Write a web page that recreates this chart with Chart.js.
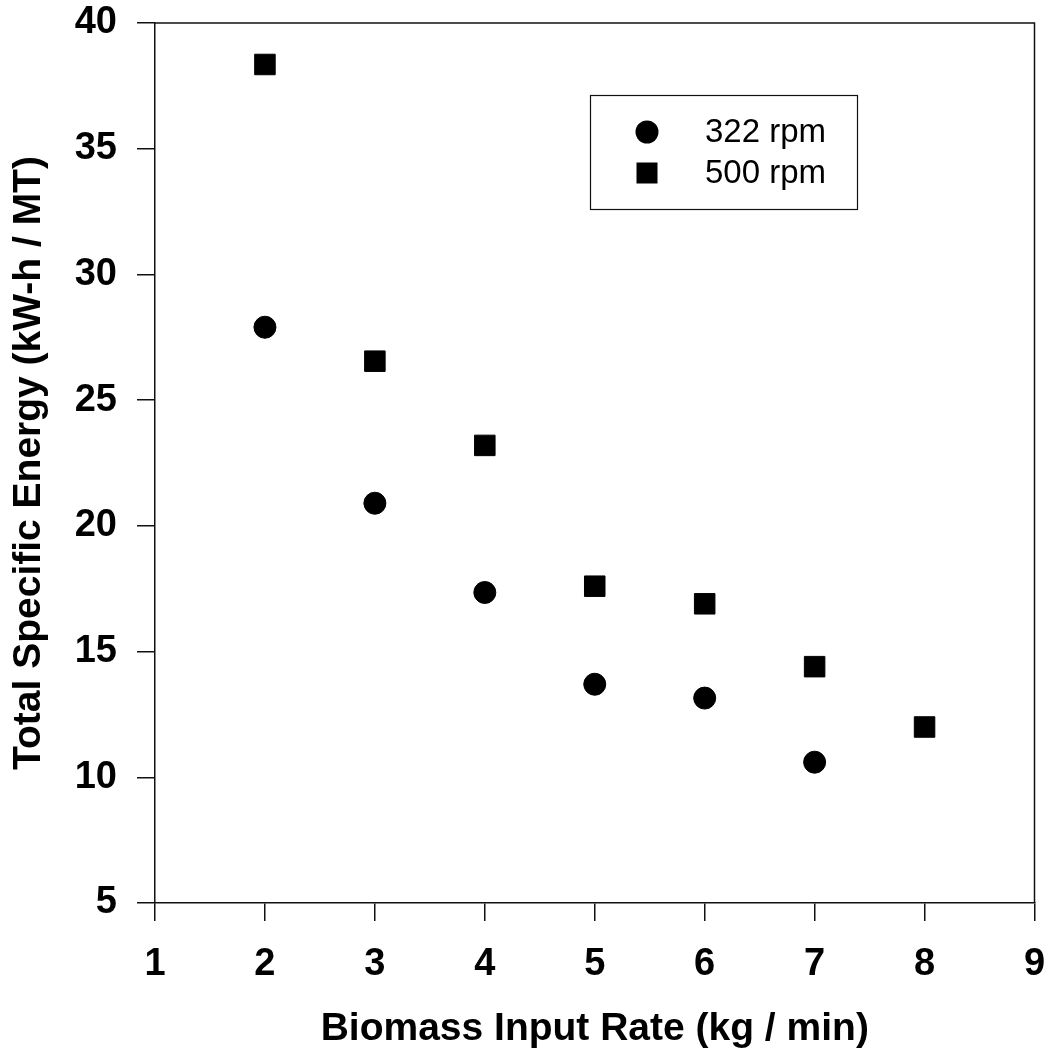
<!DOCTYPE html>
<html>
<head>
<meta charset="utf-8">
<script src="https://cdn.jsdelivr.net/npm/chart.js@4"></script>
<style>
  html, body { margin: 0; padding: 0; background: #fff; }
  #wrap { width: 1050px; height: 1053px; }
</style>
</head>
<body>
<div id="wrap"><canvas id="energyChart"></canvas></div>
<script>
// values
const rates322 = [2, 3, 4, 5, 6, 7];
const energy322 = [27.9, 20.9, 17.35, 13.7, 13.15, 10.6];
const rates500 = [2, 3, 4, 5, 6, 7, 8];
const energy500 = [38.35, 26.55, 23.2, 17.6, 16.9, 14.4, 12.0];
const seriesLabels = ["322 rpm", "500 rpm"];
const xTicks = [1, 2, 3, 4, 5, 6, 7, 8, 9];
const yTicks = [5, 10, 15, 20, 25, 30, 35, 40];

const FONT = "'Liberation Sans', Arial, sans-serif";
const INK = "#111";

const toPoints = (xs, ys) => xs.map((x, i) => ({x: x, y: ys[i]}));

// keep label overhang from shrinking the plot box
const noOverhang = (scale) => {
    scale.paddingTop = 0;
    scale.paddingBottom = 0;
    scale.paddingLeft = 0;
    scale.paddingRight = 0;
};

// closes the plot box on top and right
const frameBox = {
    id: "frameBox",
    afterDraw(chart) {
        const {ctx, chartArea} = chart;
        ctx.save();
        ctx.strokeStyle = INK;
        ctx.lineWidth = 1.5;
        ctx.beginPath();
        ctx.moveTo(chartArea.left, chartArea.top);
        ctx.lineTo(chartArea.right, chartArea.top);
        ctx.lineTo(chartArea.right, chartArea.bottom);
        ctx.stroke();
        ctx.restore();
    }
};

// boxed legend inside the plot, like the original
const boxLegend = {
    id: "boxLegend",
    afterDraw(chart) {
        const {ctx} = chart;
        const bx = 590, by = 95, bw = 267, bh = 114;
        ctx.save();
        ctx.strokeStyle = INK;
        ctx.lineWidth = 1.2;
        ctx.strokeRect(bx + 0.5, by + 0.5, bw, bh);
        ctx.fillStyle = "#000";
        ctx.font = "33px " + FONT;
        ctx.textBaseline = "middle";
        ctx.textAlign = "left";
        const rows = [132, 173];
        chart.data.datasets.forEach((ds, i) => {
            const cy = rows[i];
            const cx = 647;
            ctx.beginPath();
            if (ds.pointStyle === "rect") {
                ctx.rect(cx - 10.5, cy - 10.5, 21, 21);
            } else {
                ctx.arc(cx, cy, 11.5, 0, Math.PI * 2);
            }
            ctx.fill();
            ctx.fillText(ds.label, 705, cy + 1);
        });
        ctx.restore();
    }
};

new Chart(document.getElementById("energyChart"), {
    type: "scatter",
    data: {
        datasets: [
            {
                label: seriesLabels[0],
                data: toPoints(rates322, energy322),
                pointStyle: "circle",
                pointRadius: 11,
                borderWidth: 1,
                borderColor: "#000",
                backgroundColor: "#000"
            },
            {
                label: seriesLabels[1],
                data: toPoints(rates500, energy500),
                pointStyle: "rect",
                pointRadius: 14.5,
                borderWidth: 1,
                borderColor: "#000",
                backgroundColor: "#000"
            }
        ]
    },
    options: {
        responsive: true,
        maintainAspectRatio: false,
        animation: false,
        layout: {padding: {top: 23, right: 15, left: 0, bottom: 0}},
        plugins: {
            legend: {display: false},
            tooltip: {enabled: false}
        },
        scales: {
            x: {
                type: "linear",
                min: 1,
                max: 9,
                afterBuildTicks: (scale) => { scale.ticks = xTicks.map(v => ({value: v})); },
                afterFit: (scale) => { scale.height = 150; noOverhang(scale); },
                ticks: {
                    color: "#000",
                    padding: 21,
                    font: {family: FONT, size: 38, weight: "bold"}
                },
                grid: {drawOnChartArea: false, drawTicks: true, tickLength: 18, color: INK, lineWidth: 1.5},
                border: {display: true, color: INK, width: 1.5},
                title: {
                    display: true,
                    text: "Biomass Input Rate (kg / min)",
                    color: "#000",
                    padding: {top: 0, bottom: 0},
                    font: {family: FONT, size: 39, weight: "bold"}
                }
            },
            y: {
                type: "linear",
                min: 5,
                max: 40,
                afterBuildTicks: (scale) => { scale.ticks = yTicks.map(v => ({value: v})); },
                afterFit: (scale) => { scale.width = 155; noOverhang(scale); },
                ticks: {
                    color: "#000",
                    padding: 20,
                    font: {family: FONT, size: 38, weight: "bold"}
                },
                grid: {drawOnChartArea: false, drawTicks: true, tickLength: 18, color: INK, lineWidth: 1.5},
                border: {display: true, color: INK, width: 1.5},
                title: {
                    display: true,
                    text: "Total Specific Energy (kW-h / MT)",
                    color: "#000",
                    padding: {top: 6, bottom: 0},
                    font: {family: FONT, size: 39, weight: "bold"}
                }
            }
        }
    },
    plugins: [frameBox, boxLegend]
});
</script>
</body>
</html>
